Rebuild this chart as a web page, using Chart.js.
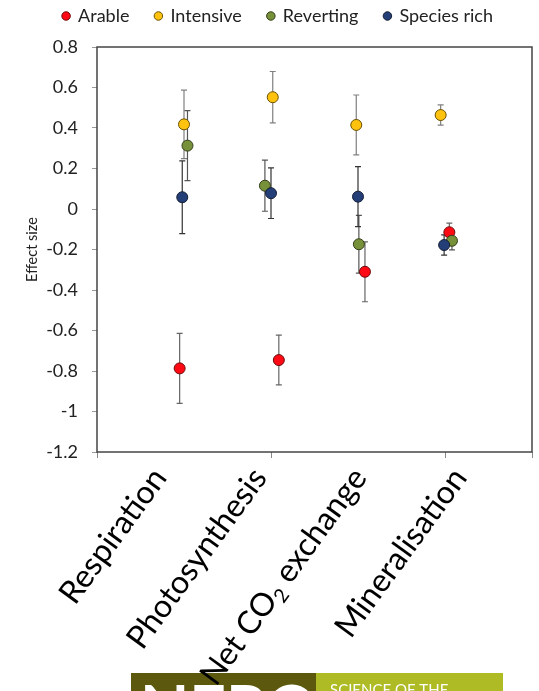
<!DOCTYPE html>
<html>
<head>
<meta charset="utf-8">
<script src="https://cdn.jsdelivr.net/npm/chart.js@4"></script>
<style>
  body { margin: 0; background: #fff; }
  #wrap { width: 539px; height: 691px; position: relative; }
</style>
</head>
<body>
<div id="wrap"><canvas id="grafico"></canvas></div>
<script>
// categorias e series
const categorias = ['Respiration', 'Photosynthesis', 'Net CO\u2082 exchange', 'Mineralisation'];
const series = ['Arable', 'Intensive', 'Reverting', 'Species rich'];
const yTicks = [0.8, 0.6, 0.4, 0.2, 0, -0.2, -0.4, -0.6, -0.8, -1, -1.2];

// posicao x de cada ponto (categoria 1..4, com pequeno deslocamento)
const arableX = [0.95, 2.09, 3.08, 4.05];
const intensiveX = [1.0, 2.02, 2.98, 3.95];
const revertingX = [1.04, 1.93, 3.01, 4.08];
const speciesX = [0.98, 2.0, 3.0, 3.99];

// effect size
const arable = [-0.787, -0.746, -0.31, -0.115];
const intensive = [0.418, 0.552, 0.415, 0.464];
const reverting = [0.313, 0.115, -0.174, -0.157];
const speciesRich = [0.058, 0.078, 0.061, -0.178];

// erro (+/-)
const arableErr = [0.173, 0.123, 0.148, 0.045];
const intensiveErr = [0.169, 0.127, 0.148, 0.05];
const revertingErr = [0.173, 0.126, 0.143, 0.045];
const speciesErr = [0.18, 0.125, 0.148, 0.05];

function pontos(xs, ys) {
  return ys.map((y, i) => ({ x: xs[i], y: y }));
}

const fonte = 'Lato';

const erros = {
  id: 'erros',
  beforeDatasetsDraw(chart) {
    const ctx = chart.ctx;
    const y = chart.scales.y;
    chart.data.datasets.forEach((ds, di) => {
      const meta = chart.getDatasetMeta(di);
      ctx.save();
      ctx.strokeStyle = ds.errColor;
      ctx.lineWidth = 1.2;
      meta.data.forEach((p, i) => {
        const v = ds.data[i].y;
        const e = ds.err[i];
        const top = y.getPixelForValue(v + e);
        const bot = y.getPixelForValue(v - e);
        ctx.beginPath();
        ctx.moveTo(p.x, top); ctx.lineTo(p.x, bot);
        ctx.moveTo(p.x - 3, top); ctx.lineTo(p.x + 3, top);
        ctx.moveTo(p.x - 3, bot); ctx.lineTo(p.x + 3, bot);
        ctx.stroke();
      });
      ctx.restore();
    });
  }
};

const moldura = {
  id: 'moldura',
  beforeDraw(chart) {
    // faixa do logotipo no rodape
    const ctx = chart.ctx;
    ctx.save();
    ctx.fillStyle = '#5c590e';
    ctx.fillRect(131, 673, 185, 18);
    ctx.fillStyle = '#aebb24';
    ctx.fillRect(316, 673, 187, 18);
    ctx.fillStyle = '#fff';
    ctx.font = 'bold 64px ' + fonte;
    ctx.textBaseline = 'top';
    ctx.fillText('NERC', 140, 678);
    ctx.font = '15px ' + fonte;
    ctx.fillText('SCIENCE OF THE', 330, 683);
    ctx.restore();
  },
  afterDraw(chart) {
    const ctx = chart.ctx;
    const a = chart.chartArea;
    const x = chart.scales.x;
    ctx.save();
    ctx.strokeStyle = '#444';
    ctx.lineWidth = 1.5;
    ctx.strokeRect(a.left, a.top, a.right - a.left, a.bottom - a.top);

    // rotulos das categorias, inclinados
    const ang = -54 * Math.PI / 180;
    const tam = 32;
    categorias.forEach((c, i) => {
      const px = x.getPixelForValue(0.72 + i * 1.15);
      const py = a.bottom + 20;
      ctx.save();
      ctx.translate(px, py);
      ctx.rotate(ang);
      ctx.fillStyle = '#000';
      ctx.textBaseline = 'middle';
      ctx.textAlign = 'left';
      let partes;
      if (c.indexOf('\u2082') >= 0) {
        partes = [['Net CO', false], ['2', true], [' exchange', false]];
      } else {
        partes = [[c, false]];
      }
      let total = 0;
      partes.forEach(p => {
        ctx.font = (p[1] ? tam * 0.62 : tam) + 'px ' + fonte;
        total += ctx.measureText(p[0]).width;
      });
      let cx = -total;
      partes.forEach(p => {
        ctx.font = (p[1] ? tam * 0.62 : tam) + 'px ' + fonte;
        ctx.fillText(p[0], cx, p[1] ? tam * 0.3 : 0);
        cx += ctx.measureText(p[0]).width;
      });
      ctx.restore();
    });
    ctx.restore();
  }
};

const ajusteLegenda = {
  id: 'ajusteLegenda',
  beforeInit(chart) {
    const fit = chart.legend.fit;
    chart.legend.fit = function () {
      fit.bind(chart.legend)();
      this.height = 66;
    };
  }
};

new Chart(grafico, {
  type: 'scatter',
  data: {
    datasets: [
      {
        label: series[0], data: pontos(arableX, arable), err: arableErr, errColor: '#666',
        backgroundColor: '#ff0a14', borderColor: '#6a0a0a', order: 3
      },
      {
        label: series[1], data: pontos(intensiveX, intensive), err: intensiveErr, errColor: '#808080',
        backgroundColor: '#ffc20e', borderColor: '#6b5200', order: 2
      },
      {
        label: series[2], data: pontos(revertingX, reverting), err: revertingErr, errColor: '#555',
        backgroundColor: '#77913a', borderColor: '#333d18', order: 1
      },
      {
        label: series[3], data: pontos(speciesX, speciesRich), err: speciesErr, errColor: '#333',
        backgroundColor: '#243f78', borderColor: '#141d33', order: 0
      }
    ]
  },
  options: {
    responsive: true,
    maintainAspectRatio: false,
    animation: false,
    elements: { point: { radius: 5.5, borderWidth: 1, hoverRadius: 5.5 } },
    layout: { padding: { left: 24, right: 7, top: -19, bottom: 233 } },
    plugins: {
      tooltip: { enabled: false },
      legend: {
        position: 'top',
        labels: {
          usePointStyle: true,
          pointStyle: 'circle',
          boxWidth: 6,
          boxHeight: 6,
          padding: 26,
          color: '#222',
          font: { family: fonte, size: 18 },
          sort: (a, b) => a.datasetIndex - b.datasetIndex
        }
      }
    },
    scales: {
      x: {
        type: 'linear',
        min: 0,
        max: 5,
        border: { display: false },
        grid: { drawOnChartArea: false, tickLength: 6, color: '#888' },
        ticks: { stepSize: 2, display: false }
      },
      y: {
        min: -1.2,
        max: 0.8,
        afterFit: s => { s.width = 73; },
        afterBuildTicks: s => { s.ticks = yTicks.map(v => ({ value: v })); },
        border: { display: false },
        grid: { drawOnChartArea: false, tickLength: 5, color: '#999' },
        ticks: {
          padding: 14,
          color: '#222',
          font: { family: fonte, size: 18 },
          callback: v => String(Math.round(v * 10) / 10)
        },
        title: {
          display: true,
          text: 'Effect size',
          color: '#222',
          padding: { top: 0, bottom: 0 },
          font: { family: fonte, size: 14.5 }
        }
      }
    }
  },
  plugins: [erros, moldura, ajusteLegenda]
});
</script>
</body>
</html>
